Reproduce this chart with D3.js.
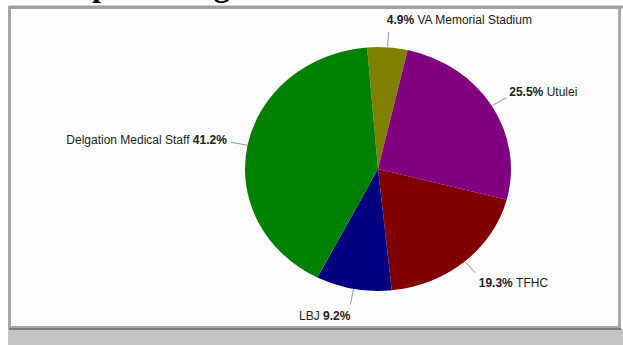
<!DOCTYPE html>
<html>
<head>
<meta charset="utf-8">
<script src="https://cdn.jsdelivr.net/npm/d3@7"></script>
<style>
  body { margin: 0; background: #fff; }
  svg { display: block; }
</style>
</head>
<body>
<div id="chart"></div>
<script>
// slices, clockwise from the top
const names = ['VA Memorial Stadium', 'Utulei', 'TFHC', 'LBJ', 'Delgation Medical Staff']
const shares = [4.9, 25.5, 19.3, 9.2, 41.2]
const colours = ['#808000', '#800080', '#800000', '#000080', '#008000']
const title = 'Group Meetings'

const width = 623
const height = 345
const cx = 378, cy = 169
const radius = 133
const ky = 122 / 133   // the picture is a little squashed vertically
const startAngle = -0.082

const svg = d3.select('#chart').append('svg')
    .attr('width', width)
    .attr('height', height)

// title, mostly hidden above the frame
const titleText = svg.append('text')
    .attr('y', -4)
    .style('font-family', '"Liberation Serif", "Times New Roman", serif')
    .style('font-weight', 'bold')
    .style('font-size', '32px')
    .attr('fill', '#000')
    .text(title)
titleText.attr('x', 92 - titleText.node().getSubStringLength(0, 4))

// grey band under the frame
svg.append('rect')
    .attr('x', 8).attr('y', 329)
    .attr('width', width - 8).attr('height', height - 329)
    .attr('fill', '#c4c4c4')

// frame
svg.append('rect')
    .attr('x', 9.5).attr('y', 7.5)
    .attr('width', 610).attr('height', 320)
    .attr('fill', '#fdfdfd')
    .attr('stroke', '#a6a6a6')
    .attr('stroke-width', 3)
svg.append('line')
    .attr('x1', 9).attr('x2', 621)
    .attr('y1', 329).attr('y2', 329)
    .attr('stroke', '#7c7c7c')
    .attr('stroke-width', 2)
svg.append('line')
    .attr('x1', 9).attr('x2', width)
    .attr('y1', 7).attr('y2', 7)
    .attr('stroke', '#a0a0a0')
    .attr('stroke-width', 3)

const data = names.map((n, i) => ({name: n, share: shares[i], colour: colours[i]}))

const pie = d3.pie()
    .sort(null)
    .value(d => d.share)
    .startAngle(startAngle)
    .endAngle(startAngle + 2 * Math.PI)

const arcs = pie(data)
const arc = d3.arc().innerRadius(0).outerRadius(radius)

svg.append('g')
    .attr('transform', `translate(${cx}, ${cy}) scale(1, ${ky})`)
    .selectAll('path')
    .data(arcs)
    .enter().append('path')
    .attr('d', arc)
    .attr('fill', d => d.data.colour)

function point (angle, r) {
    return [cx + r * Math.sin(angle), cy - r * ky * Math.cos(angle)]
}

const labels = svg.append('g')
    .style('font-family', '"Liberation Sans", Arial, sans-serif')
    .style('font-size', '12px')

arcs.forEach(d => {
    const mid = (d.startAngle + d.endAngle) / 2
    const p1 = point(mid, radius)
    const p2 = point(mid, radius + 17)
    const pt = point(mid, radius + 30)
    const left = Math.sin(mid) < 0
    const vertical = Math.abs(Math.sin(mid)) < 0.3

    labels.append('line')
        .attr('x1', p1[0]).attr('y1', p1[1])
        .attr('x2', p2[0]).attr('y2', p2[1])
        .attr('stroke', '#9a9a9a')
        .attr('stroke-width', 1)

    let x
    if (vertical) x = left ? p2[0] : p2[0] - 2
    else x = left ? p2[0] - 4 : p2[0] + 3

    const t = labels.append('text')
        .attr('x', x)
        .attr('y', pt[1])
        .attr('dy', '0.35em')
        .attr('text-anchor', left ? 'end' : 'start')
        .attr('fill', '#222')
    const pct = d.data.share.toFixed(1) + '%'
    if (left) {
        t.append('tspan').text(d.data.name + ' ')
        t.append('tspan').style('font-weight', 'bold').text(pct)
    } else {
        t.append('tspan').style('font-weight', 'bold').text(pct + ' ')
        t.append('tspan').text(d.data.name)
    }
})
</script>
</body>
</html>
